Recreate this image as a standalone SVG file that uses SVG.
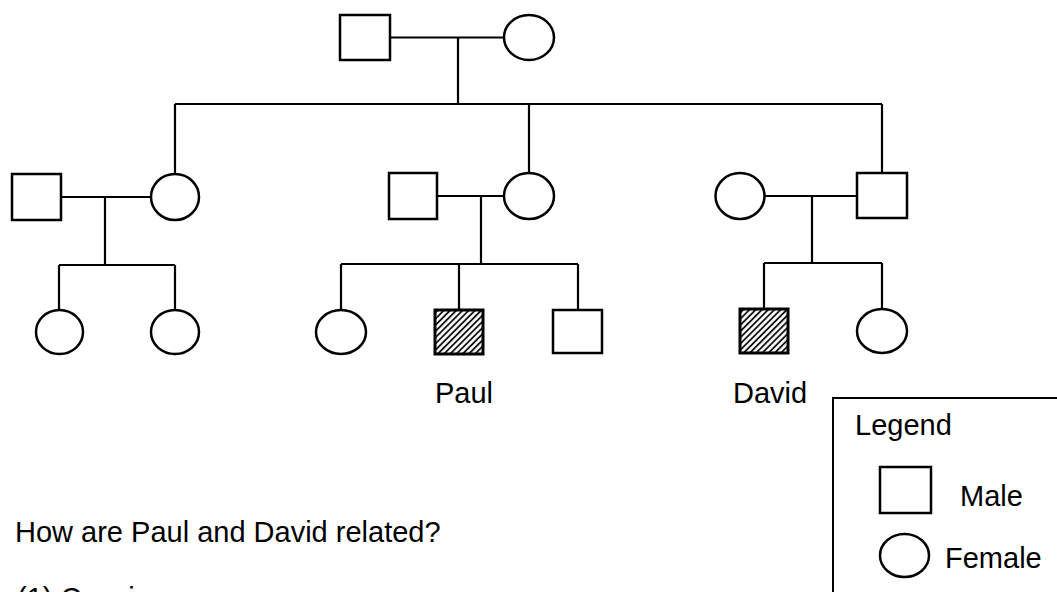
<svg xmlns="http://www.w3.org/2000/svg" width="1057" height="592" viewBox="0 0 1057 592">
<style>
.node{fill:#fff;stroke:#000;stroke-width:2.5}
.aff{fill:url(#hatch);stroke:#000;stroke-width:3}
.conn{fill:none;stroke:#000;stroke-width:2.2}
.lbl{font-family:"Liberation Sans",Arial,sans-serif;font-size:29px;fill:#000}
</style>
<defs>
<pattern id="hatch" patternUnits="userSpaceOnUse" width="4.4" height="4.4" patternTransform="rotate(45)">
<rect width="4.4" height="4.4" fill="#fff"/>
<line x1="1" y1="0" x2="1" y2="4.4" stroke="#000" stroke-width="1.7"/>
</pattern>
</defs>
<rect width="1057" height="592" fill="#fff"/>
<g id="connectors" class="conn">
<path d="M390 37.5H504M458 37.5V104M175 104H882M175 104V174M529 104V173M882 104V173"/>
<path d="M61 197H151M105 197V265M59 265H175M59 265V310M175 265V310"/>
<path d="M437 196H504M481 196V264M341 264H578M341 264V310M459 264V310M578 264V310"/>
<path d="M764.5 196H857M812 196V263M764 263H882M764 263V309M882 263V309"/>
</g>
<g id="grandfather"><rect class="node" x="340" y="15" width="50" height="45"/></g>
<g id="grandmother"><ellipse class="node" cx="529" cy="37.5" rx="25" ry="22.5"/></g>
<g id="left-husband"><rect class="node" x="12" y="174" width="49" height="46"/></g>
<g id="left-daughter"><ellipse class="node" cx="175" cy="197" rx="24" ry="23"/></g>
<g id="middle-husband"><rect class="node" x="389" y="173" width="48" height="46"/></g>
<g id="middle-daughter"><ellipse class="node" cx="529" cy="196" rx="25" ry="23"/></g>
<g id="right-wife"><ellipse class="node" cx="740" cy="196" rx="24.5" ry="23"/></g>
<g id="right-son"><rect class="node" x="857" y="173" width="50" height="45"/></g>
<g id="child-1"><ellipse class="node" cx="59.5" cy="332" rx="23.5" ry="22"/></g>
<g id="child-2"><ellipse class="node" cx="175" cy="332" rx="24" ry="22"/></g>
<g id="child-3"><ellipse class="node" cx="341" cy="332" rx="25" ry="22"/></g>
<g id="paul"><rect class="aff" x="435" y="310" width="48" height="44"/><text class="lbl" x="435" y="403">Paul</text></g>
<g id="child-5"><rect class="node" x="553" y="310" width="49" height="43"/></g>
<g id="david"><rect class="aff" x="740" y="309" width="48" height="44"/><text class="lbl" x="733" y="403">David</text></g>
<g id="child-7"><ellipse class="node" cx="882" cy="331" rx="25" ry="22"/></g>
<g id="legend">
<path d="M1060 398H833V595" fill="none" stroke="#000" stroke-width="2"/>
<text class="lbl" x="855" y="435">Legend</text>
<rect class="node" x="880" y="467" width="51" height="46" stroke-width="2"/>
<text class="lbl" x="960" y="506">Male</text>
<ellipse class="node" cx="904.5" cy="555.5" rx="24.5" ry="21.5" stroke-width="2"/>
<text class="lbl" x="945" y="568">Female</text>
</g>
<g id="question">
<text class="lbl" x="15" y="542">How are Paul and David related?</text>
<text class="lbl" x="17" y="608">(1) Cousins</text>
</g>
</svg>
